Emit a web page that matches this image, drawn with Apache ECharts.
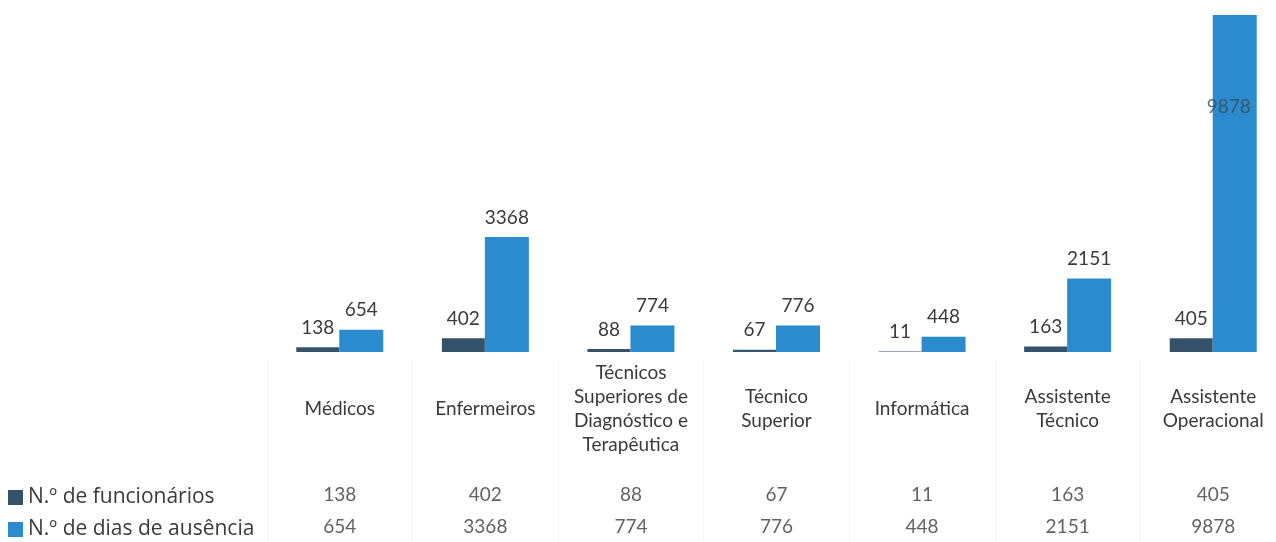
<!DOCTYPE html>
<html>
<head>
<meta charset="utf-8">
<script src="https://cdn.jsdelivr.net/npm/echarts@6/dist/echarts.min.js"></script>
<style>
  html, body { margin: 0; padding: 0; background: #ffffff; }
  #chart { width: 1276px; height: 542px; }
</style>
</head>
<body>
<div id="chart"></div>
<script>
// Categories and values
const categories = [
  'Médicos',
  'Enfermeiros',
  'Técnicos\nSuperiores de\nDiagnóstico e\nTerapêutica',
  'Técnico\nSuperior',
  'Informática',
  'Assistente\nTécnico',
  'Assistente\nOperacional'
];
const seriesNames = ['N.º de funcionários', 'N.º de dias de ausência'];
const funcionarios = [138, 402, 88, 67, 11, 163, 405];
const diasAusencia = [654, 3368, 774, 776, 448, 2151, 9878];

const FONT = 'Lato, "Open Sans", sans-serif';
const TEXT = '#3a3a3a';
const DARK = '#34536a';
const LIGHT = '#2b8bcf';

// Table cells: [column, row, value]
const tableCells = [];
funcionarios.forEach((v, i) => tableCells.push([i, 0, v]));
diasAusencia.forEach((v, i) => tableCells.push([i, 1, v]));

const lastIdx = diasAusencia.length - 1;
const absenceData = diasAusencia.map((v, i) => i === lastIdx ? {
  value: v,
  label: { position: 'insideTop', distance: 82, color: 'rgba(60,75,90,0.8)', offset: [-6, 0] }
} : v);

const legendBase = {
  orient: 'vertical',
  left: 8,
  padding: 0,
  itemWidth: 15,
  itemHeight: 15,
  icon: 'rect',
  selectedMode: false,
  textStyle: { fontSize: 21, color: TEXT, fontFamily: '"Open Sans", Lato, sans-serif' }
};

const gridBase = { left: 267, width: 1019, outerBoundsMode: 'none', containLabel: false };

const chart = echarts.init(document.getElementById('chart'), null, { renderer: 'canvas' });

chart.setOption({
  animation: false,
  backgroundColor: '#ffffff',
  textStyle: { fontFamily: FONT },
  grid: [
    Object.assign({ top: 15, bottom: 190 }, gridBase),
    Object.assign({ top: 360, bottom: 0 }, gridBase),
    Object.assign({ top: 479, height: 64 }, gridBase)
  ],
  legend: [
    Object.assign({ data: [seriesNames[0]], top: 487 }, legendBase),
    Object.assign({ data: [seriesNames[1]], top: 519 }, legendBase)
  ],
  xAxis: [
    {
      gridIndex: 0,
      type: 'category',
      data: categories,
      axisLine: { show: false },
      axisTick: { show: false },
      axisLabel: {
        interval: 0,
        margin: 57,
        verticalAlign: 'middle',
        fontSize: 19,
        lineHeight: 24,
        color: TEXT,
        fontFamily: FONT
      }
    },
    {
      gridIndex: 1,
      type: 'category',
      data: categories,
      axisLine: { show: false },
      axisTick: { show: false },
      axisLabel: { show: false },
      splitLine: { show: true, interval: 0, lineStyle: { color: '#f4f4f4', width: 1 } }
    },
    {
      gridIndex: 2,
      type: 'category',
      data: categories,
      show: false
    }
  ],
  yAxis: [
    { gridIndex: 0, type: 'value', min: 0, max: 9878, show: false },
    { gridIndex: 1, type: 'value', show: false },
    { gridIndex: 2, type: 'category', data: seriesNames, inverse: true, show: false }
  ],
  series: [
    {
      name: seriesNames[0],
      type: 'bar',
      xAxisIndex: 0,
      yAxisIndex: 0,
      data: funcionarios,
      barWidth: 43,
      barGap: '0%',
      itemStyle: { color: DARK },
      label: {
        show: true,
        position: 'top',
        distance: 10,
        fontSize: 19,
        color: TEXT,
        fontFamily: FONT
      }
    },
    {
      name: seriesNames[1],
      type: 'bar',
      xAxisIndex: 0,
      yAxisIndex: 0,
      data: absenceData,
      barWidth: 44,
      barGap: '0%',
      itemStyle: { color: LIGHT },
      label: {
        show: true,
        position: 'top',
        distance: 10,
        fontSize: 19,
        color: TEXT,
        fontFamily: FONT
      }
    },
    {
      name: 'tabela',
      type: 'scatter',
      xAxisIndex: 2,
      yAxisIndex: 2,
      data: tableCells,
      symbolSize: 0,
      silent: true,
      label: {
        show: true,
        position: 'inside',
        formatter: p => String(p.value[2]),
        fontSize: 19,
        color: TEXT,
        fontFamily: FONT
      }
    }
  ]
});
</script>
</body>
</html>
